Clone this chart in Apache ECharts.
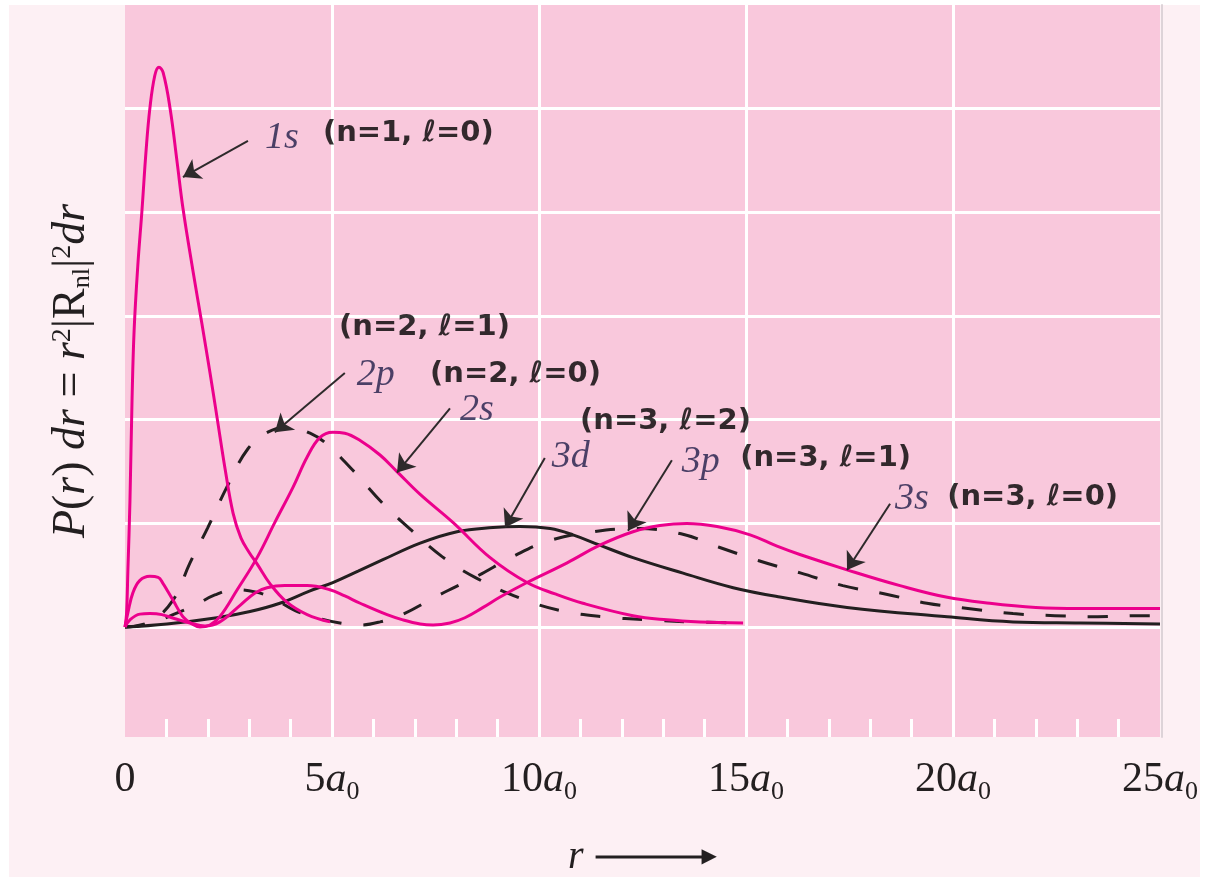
<!DOCTYPE html>
<html><head><meta charset="utf-8">
<script src="https://cdn.jsdelivr.net/npm/echarts@6/dist/echarts.min.js"></script>
<style>
html,body{margin:0;padding:0;background:#fff;width:1207px;height:879px;overflow:hidden}
#panel{position:absolute;left:9px;top:5px;width:1191px;height:872px;background:#fdf0f4}
#chart{position:absolute;left:0;top:0;width:1207px;height:879px}
</style></head><body>
<div id="panel"></div><div id="chart"></div>
<script>
// ---- data: r in units of a0, P(r) ----
const orb1s = [[0,0],[0.036,0.012],[0.07,0.055],[0.12,0.122],[0.17,0.219],[0.22,0.286],[0.31,0.349],[0.41,0.402],[0.51,0.460],[0.60,0.500],[0.72,0.532],[0.82,0.540],[0.92,0.535],[1.09,0.500],[1.26,0.448],[1.40,0.404],[1.64,0.344],[1.86,0.292],[2.05,0.246],[2.22,0.203],[2.42,0.152],[2.61,0.110],[2.80,0.086],[3.00,0.072],[3.19,0.061],[3.50,0.042],[3.91,0.024],[4.40,0.012],[4.95,0.005]];
const orb2s = [[0,0],[0.07,0.014],[0.19,0.033],[0.36,0.045],[0.60,0.049],[0.80,0.048],[0.92,0.042],[1.04,0.034],[1.16,0.026],[1.40,0.010],[1.62,0.003],[1.81,0],[2.05,0.002],[2.29,0.010],[2.71,0.036],[3.19,0.067],[3.62,0.101],[4.06,0.135],[4.40,0.164],[4.71,0.183],[5.02,0.188],[5.31,0.187],[5.68,0.180],[6.16,0.166],[6.57,0.150],[7.13,0.128],[7.92,0.101],[8.82,0.067],[9.71,0.043],[10.39,0.032],[11.06,0.023],[12.27,0.011],[13.09,0.007],[13.89,0.005],[14.93,0.004]];
const orb2p = [[0,0],[0.60,0.005],[1.16,0.026],[1.57,0.062],[2.00,0.096],[2.46,0.135],[2.97,0.172],[3.45,0.188],[3.99,0.193],[4.47,0.187],[4.83,0.178],[5.51,0.151],[6.21,0.120],[6.93,0.093],[7.66,0.068],[8.50,0.047],[9.54,0.028],[10.51,0.016],[11.55,0.010],[12.61,0.007],[13.65,0.005],[14.98,0.004]];
const orb3d = [[0,0],[1.01,0.003],[2.22,0.009],[3.02,0.015],[3.74,0.023],[4.47,0.035],[5.02,0.043],[5.63,0.054],[6.23,0.065],[7.13,0.081],[8.02,0.092],[8.89,0.096],[9.54,0.097],[10.27,0.095],[10.82,0.089],[11.47,0.079],[12.27,0.067],[13.48,0.052],[14.69,0.038],[15.82,0.029],[17.44,0.019],[19.86,0.010],[21.45,0.005],[23.07,0.004],[25,0.003]];
const orb3p = [[0,0],[0.60,0.003],[1.16,0.012],[1.69,0.021],[2.17,0.031],[2.66,0.036],[3.14,0.034],[3.57,0.028],[4.11,0.016],[4.64,0.009],[5.19,0.004],[5.68,0.002],[6.16,0.005],[6.69,0.012],[7.54,0.030],[8.50,0.049],[9.37,0.068],[10.22,0.083],[11.33,0.092],[12.39,0.095],[13.43,0.090],[14.35,0.077],[15.31,0.064],[16.33,0.052],[17.34,0.040],[18.36,0.032],[19.37,0.023],[20.36,0.018],[21.45,0.013],[22.46,0.011],[23.50,0.010],[24.57,0.011],[25,0.011]];
const orb3s = [[0,0],[0.12,0.007],[0.36,0.0125],[0.60,0.013],[0.89,0.012],[1.21,0.008],[1.57,0.004],[1.93,0.001],[2.29,0.005],[2.78,0.021],[3.14,0.033],[3.43,0.038],[3.86,0.040],[4.40,0.040],[4.95,0.036],[5.31,0.030],[5.68,0.023],[6.33,0.012],[6.71,0.007],[7.13,0.003],[7.44,0.002],[7.85,0.004],[8.21,0.009],[8.65,0.019],[9.06,0.029],[9.71,0.043],[10.68,0.062],[11.47,0.079],[12.27,0.092],[12.92,0.098],[13.57,0.100],[14.30,0.097],[15.10,0.089],[15.75,0.078],[16.30,0.070],[17.46,0.055],[18.72,0.040],[19.83,0.029],[20.89,0.023],[22.00,0.019],[23.07,0.018],[25,0.018]];

const xTickLabels = ['0','5','10','15','20','25'];
const yGridValues = [0, 0.1, 0.2, 0.3, 0.4, 0.5];

// annotations
const orbitalNames = ['1s','2p','2s','3d','3p','3s'];
const quantumNames = ['(n=1, ℓ=0)','(n=2, ℓ=1)','(n=2, ℓ=0)','(n=3, ℓ=2)','(n=3, ℓ=1)','(n=3, ℓ=0)'];
const orbitalAt = [[3.38,0.472],[5.60,0.243],[8.09,0.209],[10.31,0.164],[13.45,0.159],[18.60,0.124]];
const quantumAt = [[4.78,0.476],[5.17,0.289],[7.37,0.244],[10.99,0.198],[14.86,0.163],[19.86,0.125]];
const arrowFrom = [[2.97,0.469],[5.31,0.245],[7.85,0.211],[10.14,0.163],[13.21,0.161],[18.48,0.119]];
const arrowTo = [[1.40,0.434],[3.62,0.188],[6.57,0.149],[9.18,0.096],[12.15,0.093],[17.44,0.055]];

const MAG = '#ec008c', BLK = '#231f20', TXT = '#231f20', ORB = '#1f1d48';
const SERIF = '"Liberation Serif", "DejaVu Serif", serif';

function curve(name, data, color, dashed) {
  return {name, type:'line', data, showSymbol:false, symbol:'none', smooth:0.4,
    lineStyle:{color, width:3, type: dashed ? [20,22] : 'solid', cap:'butt'}, z:3, silent:true};
}

const chart = echarts.init(document.getElementById('chart'), null, {renderer:'canvas'});
chart.setOption({
  animation:false,
  backgroundColor:'transparent',
  grid:{left:125, right:47, top:5, bottom:142, show:true, backgroundColor:'#f9c8dc', borderWidth:0, containLabel:false, outerBoundsMode:'none'},
  xAxis:{type:'value', min:0, max:25, interval:5,
    axisLine:{show:false, onZero:false},
    axisTick:{show:false, inside:true},
    minorTick:{show:true, splitNumber:5, length:18, lineStyle:{color:'#ffffff', width:3}},
    splitLine:{show:true, showMinLine:false, showMaxLine:false, lineStyle:{color:'#ffffff', width:3}},
    axisLabel:{margin:22, color:TXT,
      formatter: v => { const t = xTickLabels[Math.round(v/5)]; return t === '0' ? '{n|0}' : '{n|' + t + '}{a|a}{s|0}'; },
      rich:{
        n:{fontFamily:SERIF, fontSize:42, color:TXT, verticalAlign:'bottom', padding:[0,0,4,0]},
        a:{fontFamily:SERIF, fontStyle:'italic', fontSize:42, color:TXT, verticalAlign:'bottom', padding:[0,0,4,0]},
        s:{fontFamily:SERIF, fontSize:26, color:TXT, verticalAlign:'bottom'}
      }},
    name:'{r|r}{ln|}{hd|▶}', nameLocation:'middle', nameGap:100, nameMoveOverlap:false,
    nameTextStyle:{rich:{
      r:{fontFamily:SERIF, fontStyle:'italic', fontSize:40, color:TXT, padding:[0,12,0,0]},
      ln:{width:110, height:3, backgroundColor:BLK, verticalAlign:'middle'},
      hd:{fontFamily:'"DejaVu Sans"', fontSize:20, color:BLK, verticalAlign:'middle', padding:[0,0,0,-4]}
    }}
  },
  yAxis:[{type:'value', min:-0.106, max:0.6,
    axisLine:{show:false}, axisTick:{show:false}, axisLabel:{show:false}, splitLine:{show:false},
    name:'{i|P}{n|(}{i|r}{n|) }{i|dr}{n| = }{i|r}{sp|2}{n||R}{sb|nl}{n||}{sp|2}{i|dr}',
    nameLocation:'middle', nameGap:30, nameMoveOverlap:false,
    nameTextStyle:{rich:{
      i:{fontFamily:SERIF, fontStyle:'italic', fontSize:46, lineHeight:46, color:TXT},
      n:{fontFamily:SERIF, fontSize:46, lineHeight:46, color:TXT},
      sp:{fontFamily:SERIF, fontSize:28, color:TXT, verticalAlign:'top'},
      sb:{fontFamily:SERIF, fontSize:26, color:TXT, verticalAlign:'bottom', padding:[10,0,0,0]}
    }}
  },{type:'value', position:'right', min:-0.106, max:0.6, offset:2,
    axisLine:{show:true, onZero:false, lineStyle:{color:'#ddd3d8', width:2}}, axisTick:{show:false}, axisLabel:{show:false}, splitLine:{show:false}}],
  series:[
    {type:'line', data:[[0,0]], symbol:'none', lineStyle:{width:0}, silent:true, z:1,
      markLine:{silent:true, z:1, symbol:['none','none'], label:{show:false}, animation:false,
        lineStyle:{color:'#ffffff', width:3, type:'solid'}, data: yGridValues.map(v => ({yAxis:v}))}},
    curve('3d', orb3d, BLK, false),
    curve('2p', orb2p, BLK, true),
    curve('3p', orb3p, BLK, true),
    curve('1s', orb1s, MAG, false),
    curve('2s', orb2s, MAG, false),
    curve('3s', orb3s, MAG, false),
    {type:'line', data:[[0,0]], symbol:'none', lineStyle:{width:0}, silent:true, z:4,
      markLine:{silent:true, z:6, symbol:['none','arrow'], symbolSize:17, label:{show:false}, animation:false,
        lineStyle:{color:'#2e2a2b', width:2, type:'solid'},
        data: arrowFrom.map((p,i) => [{coord:p}, {coord:arrowTo[i]}])}},
    {type:'scatter', symbolSize:0, silent:true, z:7,
      data: orbitalAt.map((p,i) => ({value:p, name:orbitalNames[i]})),
      label:{show:true, position:[0,0], align:'left', verticalAlign:'middle', formatter:'{b}',
        fontFamily:SERIF, fontStyle:'italic', fontSize:38, color:ORB}},
    {type:'scatter', symbolSize:0, silent:true, z:7,
      data: quantumAt.map((p,i) => ({value:p, name:quantumNames[i]})),
      label:{show:true, position:[0,0], align:'left', verticalAlign:'middle', formatter:'{b}',
        fontFamily:'"DejaVu Sans"', fontWeight:'bold', fontSize:29, color:'#000000'}}
  ]
});
</script>
</body></html>
